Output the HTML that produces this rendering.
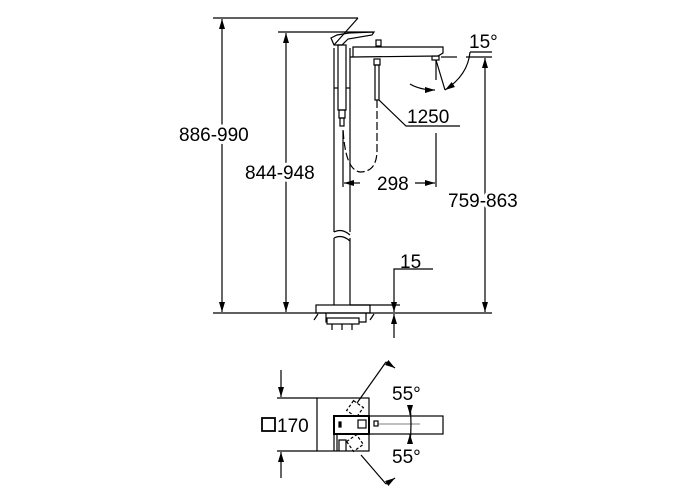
<!DOCTYPE html>
<html><head><meta charset="utf-8"><style>
html,body{margin:0;padding:0;background:#fff}
svg{display:block}
text{font-family:"Liberation Sans",sans-serif;font-size:19px;fill:#000}
text.b{stroke:#fff;stroke-width:6px;paint-order:stroke}
</style></head><body>
<svg width="700" height="500" viewBox="0 0 700 500" xmlns="http://www.w3.org/2000/svg">
<defs>
<marker id="a" viewBox="0 0 10 6" refX="10" refY="3" markerWidth="10" markerHeight="6" orient="auto-start-reverse" markerUnits="userSpaceOnUse"><path d="M0,0 L10,3 L0,6 Z" fill="#000"/></marker>
</defs>
<g stroke="#000" stroke-width="1.2" fill="none">
<line x1="213" y1="313" x2="492" y2="313"/>
<line x1="213" y1="18" x2="358" y2="18"/>
<line x1="222" y1="19" x2="222" y2="312" marker-start="url(#a)" marker-end="url(#a)"/>
<line x1="334" y1="45" x2="358" y2="18"/>
<line x1="278" y1="32" x2="373" y2="32"/>
<line x1="286" y1="33" x2="286" y2="312" marker-start="url(#a)" marker-end="url(#a)"/>
<line x1="334" y1="48" x2="334" y2="232"/>
<line x1="350" y1="48" x2="350" y2="232"/>
<line x1="334" y1="238" x2="334" y2="305"/>
<line x1="350" y1="238" x2="350" y2="305"/>
<path d="M334,232 Q342,228 350,235 M334,238 Q342,234 350,241"/>
<rect x="338" y="45" width="8" height="65"/>
<rect x="339" y="110" width="6" height="8"/>
<rect x="340" y="118" width="4" height="8"/>
<line x1="334" y1="88" x2="338" y2="88"/><line x1="346" y1="88" x2="350" y2="88"/>
<path d="M331,38 L337,35 L349,33 L374,32 L372,35 L348,39 L342,45 L334,45 Z"/>
<path d="M350,57 L353,57 L353,47 L443,47 L443,53 L438,56 L353,57"/>
<rect x="432" y="56" width="7" height="4"/>
<rect x="376" y="40" width="5" height="6"/>
<rect x="374" y="59" width="6" height="6"/>
<rect x="375" y="65" width="4" height="35"/>
<path d="M377,100 L377,150 Q377,172 360,172 Q345,170 343,128" stroke-dasharray="8,3"/>
<polyline points="379,100 406,126 460,126"/>
<line x1="436" y1="60" x2="436" y2="80"/>
<line x1="436" y1="60" x2="445" y2="90"/>
<line x1="441" y1="57" x2="457" y2="57"/>
<line x1="470" y1="52" x2="492" y2="52"/>
<path d="M470,52 Q468,75 445,90" marker-end="url(#a)"/>
<path d="M410,84 Q420,90 435,90" marker-end="url(#a)"/>
<line x1="436" y1="133" x2="436" y2="187"/>
<line x1="343" y1="130" x2="343" y2="187"/>
<line x1="360" y1="183" x2="344" y2="183" marker-end="url(#a)"/>
<line x1="415" y1="183" x2="435" y2="183" marker-end="url(#a)"/>
<line x1="485" y1="58" x2="485" y2="312" marker-start="url(#a)" marker-end="url(#a)"/>
<line x1="466" y1="57" x2="492" y2="57"/>
<polyline points="433,269 394,269 394,312" marker-end="url(#a)"/>
<line x1="394" y1="328" x2="394" y2="314" marker-end="url(#a)"/>
<line x1="394" y1="328" x2="394" y2="338"/>
<line x1="350" y1="305" x2="400" y2="305"/>
<rect x="316" y="305" width="54" height="8"/>
<path d="M326,313 L326,322 L366,322 L366,313"/>
<rect x="327" y="318" width="32" height="6" fill="#fff"/>
<line x1="332" y1="324" x2="332" y2="330"/><line x1="342" y1="324" x2="342" y2="330"/><line x1="352" y1="324" x2="352" y2="330"/>
<line x1="314" y1="320" x2="318" y2="314"/><line x1="370" y1="320" x2="374" y2="314"/>
<line x1="277" y1="398" x2="317" y2="398"/>
<line x1="277" y1="451" x2="317" y2="451"/>
<line x1="281" y1="370" x2="281" y2="397" marker-end="url(#a)"/>
<line x1="281" y1="478" x2="281" y2="452" marker-end="url(#a)"/>
<rect x="317" y="398" width="52" height="53"/>
<rect x="369" y="416" width="74" height="18"/>
<rect x="334" y="416" width="35" height="18" stroke-width="2"/>
<rect x="339" y="422" width="2" height="5" fill="#000"/>
<rect x="358" y="420" width="8" height="8"/>
<rect x="374" y="421" width="4" height="5"/>
<line x1="378" y1="424" x2="420" y2="424" stroke-width="0.6"/>
<path d="M337,434 L337,451 M334,434 L334,451" />
<path d="M339,451 L339,440 L346,440 L346,451"/>
<rect x="349" y="403" width="12" height="12" stroke-dasharray="3,2" transform="rotate(35 355 409)"/>
<rect x="349" y="437" width="12" height="12" stroke-dasharray="3,2" transform="rotate(-35 355 443)"/>
<line x1="357" y1="403" x2="386" y2="362"/>
<line x1="361" y1="455" x2="386" y2="484"/>
<path d="M386,362 L395,368" marker-end="url(#a)"/>
<path d="M386,484 L395,478" marker-end="url(#a)"/>
<path d="M410,405 Q412,424 410,443" />
<line x1="410" y1="405" x2="410" y2="415" marker-end="url(#a)"/>
<line x1="410" y1="443" x2="410" y2="434" marker-end="url(#a)"/>
<rect x="262" y="418" width="13" height="13" stroke-width="1.8"/>
</g>
<text class="b" x="179" y="141">886-990</text>
<text class="b" x="245" y="179">844-948</text>
<text x="407" y="123">1250</text>
<text x="469" y="48">15°</text>
<text class="b" x="377" y="190">298</text>
<text class="b" x="448" y="207">759-863</text>
<text x="400" y="268">15</text>
<text x="277" y="432">170</text>
<text x="392" y="400">55°</text>
<text x="392" y="463">55°</text>
</svg>
</body></html>
